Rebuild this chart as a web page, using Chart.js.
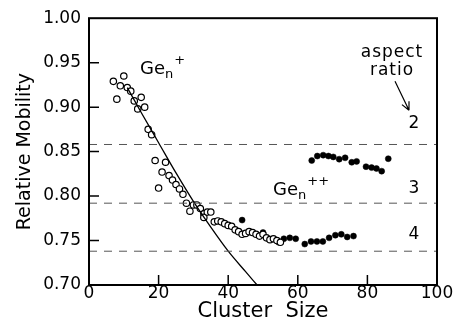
<!DOCTYPE html>
<html><head><meta charset="utf-8">
<script src="https://cdn.jsdelivr.net/npm/chart.js@4"></script>
<style>html,body{margin:0;padding:0;background:#fff;}#wrap{width:456px;height:334px;}</style>
</head><body><div id="wrap"><canvas id="c" width="456" height="334"></canvas></div>
<script>
// ---- data ----
const genPlusSize = [7,8,9,10,11,12,13,14,15,16,17,18,19,20,21,22,23,24,25,26,27,28,29,30,31,32,33,33,34,35,36,37,38,39,40,41,42,43,44,45,46,47,48,49,50,51,52,53,54,55];
const genPlusMobility = [0.929,0.909,0.924,0.935,0.922,0.918,0.907,0.898,0.911,0.900,0.875,0.869,0.840,0.809,0.827,0.838,0.823,0.818,0.813,0.808,0.802,0.792,0.783,0.790,0.790,0.786,0.780,0.776,0.782,0.782,0.771,0.772,0.771,0.769,0.767,0.766,0.762,0.760,0.757,0.758,0.760,0.759,0.757,0.755,0.757,0.753,0.751,0.752,0.750,0.748];

const filledLowerSize = [44.0,50.0,54.5,56.0,57.7,59.4,62.0,63.8,65.5,67.2,69.0,70.8,72.5,74.2,76.0];
const filledLowerMobility = [0.773,0.759,0.748,0.752,0.753,0.752,0.746,0.749,0.749,0.749,0.753,0.756,0.757,0.754,0.755];

const genPlusPlusSize = [64.0,65.6,67.3,68.8,70.2,71.9,73.6,75.5,76.9,79.6,81.2,82.6,84.1,86.0];
const genPlusPlusMobility = [0.840,0.845,0.846,0.845,0.844,0.8415,0.843,0.838,0.839,0.833,0.832,0.831,0.828,0.842];

const curveSize = [11,15,20,25,30,35,40,45,48.3];
const curveMobility = [0.922,0.894,0.860,0.826,0.794,0.765,0.738,0.715,0.700];

const aspectRatioLabels = ['2','3','4'];
const aspectRatioMobility = [0.858,0.792,0.738];

const xTickValues = [0,20,40,60,80,100];
const yTickValues = [0.70,0.75,0.80,0.85,0.90,0.95,1.00];
const xAxisTitle = 'Cluster  Size';
const yAxisTitle = 'Relative Mobility';
const genPlusLabel = ['Ge','n','+'];
const genPlusPlusLabel = ['Ge','n','++'];
const aspectTitle = ['aspect','ratio'];

// ---- build datasets ----
const pts = (xs, ys) => xs.map((v,i) => ({x: v, y: ys[i]}));
const dashedSets = aspectRatioMobility.map((m,i) => ({
  label: 'aspect ratio ' + aspectRatioLabels[i],
  data: [{x: xTickValues[0], y: m}, {x: xTickValues[xTickValues.length-1], y: m}],
  showLine: true, pointRadius: 0, borderColor: '#555', borderWidth: 1, borderDash: [8,7]
}));

const FONT = "'DejaVu Sans', sans-serif";

const decor = {
  id: 'decor',
  afterDatasetsDraw(chart) {
    const {ctx, chartArea: a, scales: {x, y}} = chart;
    ctx.save();
    ctx.strokeStyle = '#000';
    ctx.fillStyle = '#000';
    // frame
    ctx.lineWidth = 2;
    ctx.strokeRect(a.left, a.top, a.right - a.left, a.bottom - a.top);
    // inward ticks
    ctx.lineWidth = 1.5;
    ctx.beginPath();
    xTickValues.slice(1, -1).forEach(v => {
      const px = x.getPixelForValue(v);
      ctx.moveTo(px, a.bottom); ctx.lineTo(px, a.bottom - 10);
    });
    yTickValues.slice(1, -1).forEach(v => {
      const py = y.getPixelForValue(v);
      ctx.moveTo(a.left, py); ctx.lineTo(a.left + 10, py);
    });
    ctx.stroke();

    // species labels
    const sub = (parts, left, base) => {
      ctx.textAlign = 'left';
      ctx.textBaseline = 'alphabetic';
      ctx.font = '18px ' + FONT;
      ctx.fillText(parts[0], left, base);
      const w = ctx.measureText(parts[0]).width;
      ctx.font = '13px ' + FONT;
      ctx.fillText(parts[1], left + w, base + 4);
      const w2 = ctx.measureText(parts[1]).width;
      ctx.font = '13px ' + FONT;
      ctx.fillText(parts[2], left + w + w2 + 1, base - 10);
    };
    sub(genPlusLabel, a.left + 51, a.top + 56);
    sub(genPlusPlusLabel, a.left + 184, a.top + 177);

    // aspect ratio legend
    ctx.font = '17px ' + FONT;
    ctx.textAlign = 'center';
    ctx.textBaseline = 'middle';
    try { ctx.letterSpacing = '1px'; } catch (e) {}
    ctx.fillText(aspectTitle[0], a.left + 303, a.top + 34);
    ctx.fillText(aspectTitle[1], a.left + 303, a.top + 52);
    try { ctx.letterSpacing = '0px'; } catch (e) {}
    const offs = [-21, -15, -17];
    aspectRatioMobility.forEach((m, i) => {
      ctx.fillText(aspectRatioLabels[i], a.left + 325, y.getPixelForValue(m) + offs[i]);
    });
    // arrow
    const x1 = a.left + 306, y1 = a.top + 63, x2 = a.left + 320, y2 = a.top + 92;
    ctx.lineWidth = 1.2;
    ctx.beginPath();
    ctx.moveTo(x1, y1); ctx.lineTo(x2, y2);
    const ang = Math.atan2(y2 - y1, x2 - x1);
    const L = 9;
    ctx.moveTo(x2, y2); ctx.lineTo(x2 - L * Math.cos(ang - 0.45), y2 - L * Math.sin(ang - 0.45));
    ctx.moveTo(x2, y2); ctx.lineTo(x2 - L * Math.cos(ang + 0.45), y2 - L * Math.sin(ang + 0.45));
    ctx.stroke();
    ctx.restore();
  }
};

new Chart(document.getElementById('c'), {
  type: 'scatter',
  data: {
    datasets: [
      ...dashedSets,
      { label: 'model', data: pts(curveSize, curveMobility), showLine: true, pointRadius: 0,
        borderColor: '#000', borderWidth: 1.3, tension: 0.3, cubicInterpolationMode: 'monotone' },
      { label: 'Ge_n+', data: pts(genPlusSize, genPlusMobility), pointRadius: 3.2, pointBorderWidth: 1.2,
        pointBackgroundColor: '#fff', pointBorderColor: '#000', pointHoverRadius: 3.2 },
      { label: 'filled lower', data: pts(filledLowerSize, filledLowerMobility), pointRadius: 3, pointBorderWidth: 0.5,
        pointBackgroundColor: '#000', pointBorderColor: '#000' },
      { label: 'Ge_n++', data: pts(genPlusPlusSize, genPlusPlusMobility), pointRadius: 3, pointBorderWidth: 0.5,
        pointBackgroundColor: '#000', pointBorderColor: '#000' }
    ]
  },
  options: {
    responsive: false,
    animation: false,
    devicePixelRatio: 1,
    layout: { padding: { top: 11, right: 19, left: 0, bottom: 0 } },
    plugins: { legend: { display: false }, tooltip: { enabled: false } },
    scales: {
      x: {
        type: 'linear', min: 0, max: 100,
        afterBuildTicks: s => { s.ticks = xTickValues.map(v => ({value: v})); },
        afterFit: s => { s.height = 49; },
        grid: { display: false, drawTicks: false, tickLength: 0 },
        border: { display: false },
        ticks: { color: '#000', padding: 0, maxRotation: 0, autoSkip: false,
          font: { family: FONT, size: 17, lineHeight: 1 }, callback: v => String(v) },
        title: { display: true, text: xAxisTitle, color: '#000',
          font: { family: FONT, size: 21, lineHeight: 1.2 }, padding: { top: 0, bottom: 10 } }
      },
      y: {
        type: 'linear', min: 0.70, max: 1.00,
        afterBuildTicks: s => { s.ticks = yTickValues.map(v => ({value: v})); },
        afterFit: s => { s.width = 89; },
        grid: { display: false, drawTicks: false, tickLength: 0 },
        border: { display: false },
        ticks: { color: '#000', padding: 8, autoSkip: false,
          font: { family: FONT, size: 17 }, callback: v => Number(v).toFixed(2) },
        title: { display: true, text: yAxisTitle, color: '#000',
          font: { family: FONT, size: 19, lineHeight: 1.2 }, padding: { top: 14, bottom: 0 } }
      }
    }
  },
  plugins: [decor]
});
</script>
</body></html>
